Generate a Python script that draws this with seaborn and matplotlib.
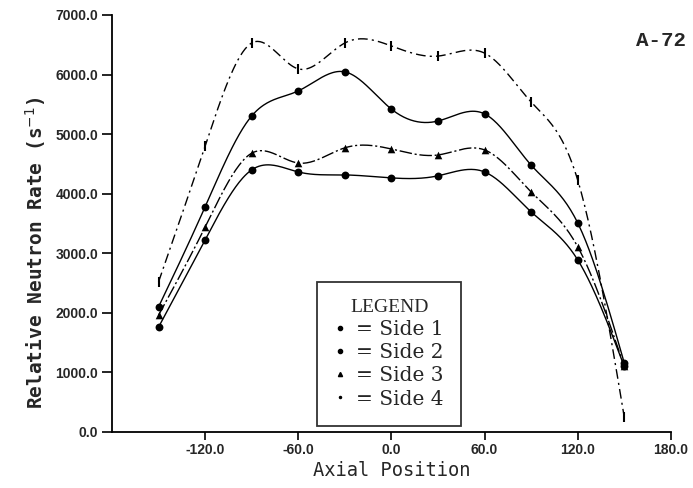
import numpy as np
import pandas as pd
import matplotlib
matplotlib.use("Agg")
import matplotlib.pyplot as plt
from matplotlib.lines import Line2D
import seaborn as sns

# axial positions of the detector
axial = [-150, -120, -90, -60, -30, 0, 30, 60, 90, 120, 150]

side1 = [1760, 3225, 4400, 4365, 4315, 4265, 4300, 4365, 3695, 2890, 1100]
side2 = [2100, 3780, 5305, 5725, 6045, 5420, 5220, 5340, 4480, 3510, 1160]
side3 = [1960, 3440, 4680, 4515, 4770, 4750, 4650, 4735, 4030, 3110, 1100]
side4 = [2520, 4800, 6530, 6095, 6530, 6480, 6310, 6360, 5540, 4230, 250]

labels = ["Side 1", "Side 2", "Side 3", "Side 4"]


def natural_spline(x, y, xs):
    x = np.asarray(x, float)
    y = np.asarray(y, float)
    n = len(x)
    h = np.diff(x)
    A = np.zeros((n, n))
    r = np.zeros(n)
    A[0, 0] = 1
    A[-1, -1] = 1
    for i in range(1, n - 1):
        A[i, i - 1] = h[i - 1]
        A[i, i] = 2 * (h[i - 1] + h[i])
        A[i, i + 1] = h[i]
        r[i] = 3 * ((y[i + 1] - y[i]) / h[i] - (y[i] - y[i - 1]) / h[i - 1])
    c = np.linalg.solve(A, r)
    b = np.diff(y) / h - h * (2 * c[:-1] + c[1:]) / 3
    d = np.diff(c) / (3 * h)
    idx = np.clip(np.searchsorted(x, xs) - 1, 0, n - 2)
    dx = xs - x[idx]
    return y[idx] + b[idx] * dx + c[idx] * dx ** 2 + d[idx] * dx ** 3


sns.set_style("ticks")
plt.rcParams["font.family"] = ["Liberation Sans", "DejaVu Sans"]

fig = plt.figure(figsize=(6.93, 4.88), dpi=100)
ax = fig.add_axes([0.1616, 0.1148, 0.8064, 0.8545])

series = [side1, side2, side3, side4]
markers = ["o", "o", "^", "|"]
msizes = [32, 32, 30, 45]
styles = ["-", "-", (0, (9, 2, 1.5, 2)), (0, (7, 3, 1.5, 3))]

xs = np.linspace(axial[0], axial[-1], 400)
for vals, lab, mk, ms, ls in zip(series, labels, markers, msizes, styles):
    smooth = pd.DataFrame({"x": xs, "y": natural_spline(axial, vals, xs)})
    sns.lineplot(data=smooth, x="x", y="y", color="black", linewidth=1.0,
                 linestyle=ls, ax=ax)
    pts = pd.DataFrame({"x": axial, "y": vals})
    sns.scatterplot(data=pts, x="x", y="y", color="black", marker=mk, s=ms,
                    linewidth=1.5 if mk == "|" else 0, edgecolor="black", ax=ax)

ax.set_xlim(-180, 180)
ax.set_ylim(0, 7000)
ax.set_xticks([-120, -60, 0, 60, 120, 180])
ax.set_xticklabels(["-120.0", "-60.0", "0.0", "60.0", "120.0", "180.0"])
ax.set_yticks(np.arange(0, 7001, 1000))
ax.set_yticklabels([f"{v:.1f}" for v in np.arange(0, 7001, 1000)])
for lbl in ax.get_xticklabels() + ax.get_yticklabels():
    lbl.set_fontweight("bold")
    lbl.set_fontsize(10)
ax.tick_params(axis="both", direction="out", length=7, width=1.2, color="black", pad=3)
ax.tick_params(axis="x", length=6, pad=2)
for sp in ["top", "right"]:
    ax.spines[sp].set_visible(False)
for sp in ["left", "bottom"]:
    ax.spines[sp].set_linewidth(1.3)
    ax.spines[sp].set_color("black")

ax.set_xlabel("Axial Position", fontsize=13.5, family="DejaVu Sans Mono")
ax.xaxis.set_label_coords(0.5, -0.07)
ax.set_ylabel("Relative Neutron Rate (s$^{-1}$)", fontsize=14, fontweight="bold",
              family="DejaVu Sans Mono")
ax.yaxis.set_label_coords(-0.115, 0.43)

ax.text(1.027, 0.94, "A-72", transform=ax.transAxes, ha="right", va="center",
        fontsize=15, fontweight="bold", family="Liberation Mono")

handles = [Line2D([], [], color="black", marker="o", markersize=3, linestyle="none"),
           Line2D([], [], color="black", marker="o", markersize=3, linestyle="none"),
           Line2D([], [], color="black", marker="^", markersize=3, linestyle="none"),
           Line2D([], [], color="black", marker=".", markersize=3, linestyle="none")]
leg = ax.legend(handles, ["= Side 1", "= Side 2", "= Side 3", "= Side 4"],
                title="LEGEND", loc="upper center", bbox_to_anchor=(0.496, 0.359),
                frameon=True, fancybox=False, handlelength=0.6, handletextpad=0.5,
                labelspacing=0.2, borderpad=0.85, borderaxespad=0,
                prop={"family": "DejaVu Serif", "size": 14.5},
                title_fontproperties={"family": "Liberation Serif", "size": 14})
leg.get_frame().set_edgecolor("black")
leg.get_frame().set_linewidth(1.3)

fig.savefig("out.png", dpi=100, facecolor="white")
